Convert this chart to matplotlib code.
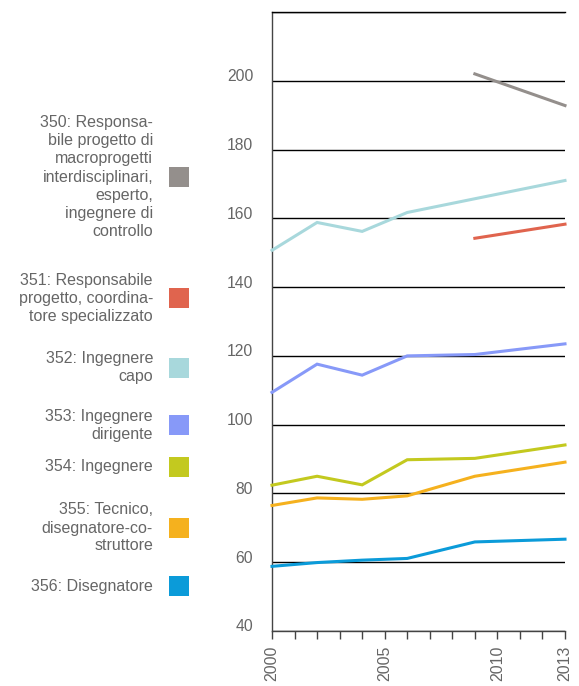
import matplotlib
matplotlib.use('Agg')
import matplotlib.pyplot as plt
from matplotlib.patches import Rectangle
from matplotlib.transforms import ScaledTranslation

plt.rcParams['font.family'] = ['Liberation Sans', 'DejaVu Sans']

years = [2000, 2002, 2004, 2006, 2009, 2013]
years_late = [2009, 2013]

s350 = [202.0, 192.8]
s351 = [154.2, 158.3]
s352 = [150.7, 158.8, 156.2, 161.7, 165.7, 171.0]
s353 = [109.4, 117.6, 114.4, 120.0, 120.4, 123.5]
s354 = [82.4, 85.0, 82.5, 89.8, 90.2, 94.1]
s355 = [76.5, 78.7, 78.3, 79.3, 85.0, 89.1]
s356 = [58.8, 59.9, 60.6, 61.1, 65.9, 66.7]

labels = ['350: Responsa-\nbile progetto di\nmacroprogetti\ninterdisciplinari,\nesperto,\ningegnere di\ncontrollo',
          '351: Responsabile\nprogetto, coordina-\ntore specializzato',
          '352: Ingegnere\ncapo',
          '353: Ingegnere\ndirigente',
          '354: Ingegnere',
          '355: Tecnico,\ndisegnatore-co-\nstruttore',
          '356: Disegnatore']
colors = ['#948f8c', '#e0644e', '#a8d8dc', '#8799f8', '#c3c91f', '#f5b11e', '#0b9bd9']
legend_y = [177, 298, 368, 425, 467, 528, 586]

series = [(years_late, s350), (years_late, s351), (years, s352), (years, s353),
          (years, s354), (years, s355), (years, s356)]

W, H = 579, 686
fig = plt.figure(figsize=(W / 100, H / 100), dpi=100)
ax = fig.add_axes([272 / W, 1 - 631 / H, 293 / W, 619 / H])

for (xs, ys), c in zip(series, colors):
    ax.plot(xs, ys, color=c, lw=2.2, solid_joinstyle='miter', zorder=3, clip_on=False)

ax.set_xlim(2000, 2013)
ax.set_ylim(40, 220)
ax.set_yticks(range(40, 221, 20))
ax.set_yticklabels([str(v) for v in range(40, 201, 20)] + [''])
ax.set_xticks(range(2000, 2014))
ax.set_xticklabels(['2000', '', '', '', '', '2005', '', '', '', '', '2010', '', '', '2013'],
                   rotation=90)
ax.tick_params(axis='y', length=0, pad=13.5, labelsize=11.3, labelcolor='#666666')
ax.tick_params(axis='x', length=5.8, width=1, color='#444444', pad=5,
               labelsize=11.5, labelcolor='#666666')
# y labels sit a little above their gridlines
shift = ScaledTranslation(0, 4 / 72, fig.dpi_scale_trans)
for t in ax.get_yticklabels():
    t.set_transform(t.get_transform() + shift)
ax.grid(axis='y', color='black', lw=1)
ax.set_axisbelow(True)
ax.spines['right'].set_visible(False)
ax.spines['top'].set_color('black')
ax.spines['left'].set_color('#444444')
ax.spines['bottom'].set_color('#444444')
for s in ax.spines.values():
    s.set_linewidth(1)

for lab, c, yy in zip(labels, colors, legend_y):
    fig.text(153 / W, 1 - yy / H, lab, ha='right', va='center', fontsize=11.5,
             color='#666666', linespacing=1.25)
    fig.patches.append(Rectangle((169 / W, 1 - (yy + 10) / H), 20 / W, 20 / H,
                                 facecolor=c, edgecolor='none', transform=fig.transFigure))

fig.savefig('out.png', dpi=100)
